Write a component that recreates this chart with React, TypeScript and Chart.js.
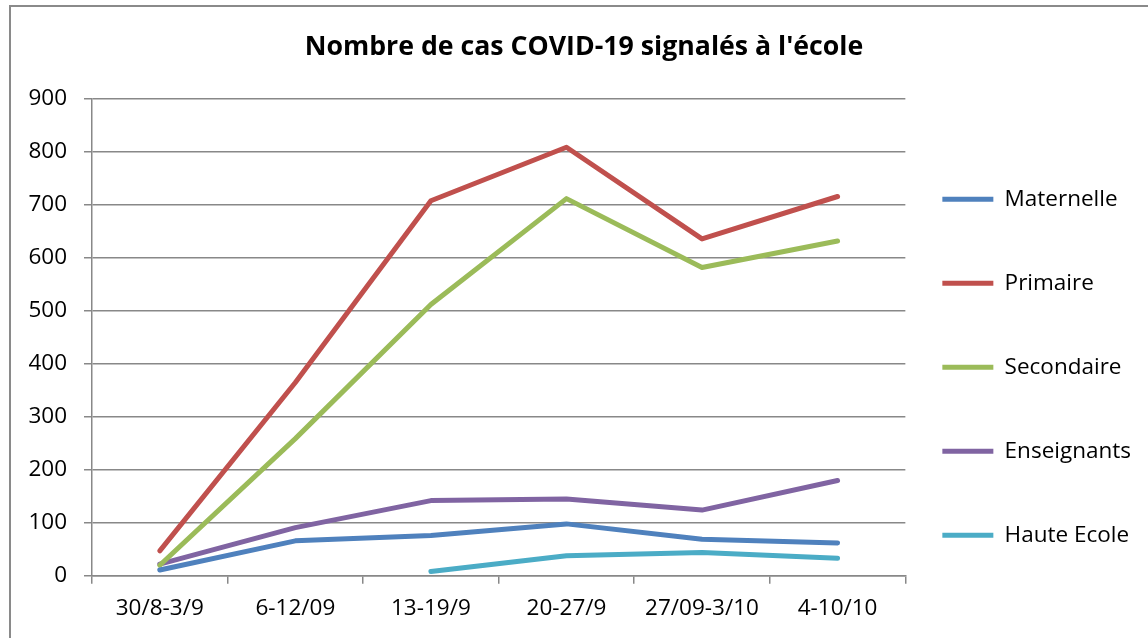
import React, { useEffect, useRef } from 'react';
import { Chart, registerables } from 'chart.js';

Chart.register(...registerables);

const FONT = 'Open Sans';

const categories = ['30/8-3/9', '6-12/09', '13-19/9', '20-27/9', '27/09-3/10', '4-10/10'];
const maternelle = [11, 66, 76, 98, 69, 62];
const primaire = [47, 365, 708, 809, 636, 716];
const secondaire = [20, 259, 512, 712, 582, 632];
const enseignants = [22, 91, 142, 145, 124, 180];
const hauteEcole = [null, null, 8, 38, 44, 33];

const seriesNames = ['Maternelle', 'Primaire', 'Secondaire', 'Enseignants', 'Haute Ecole'];
const seriesColors = ['#4F81BD', '#C0504D', '#9BBB59', '#8064A2', '#4BACC6'];
const seriesValues = [maternelle, primaire, secondaire, enseignants, hauteEcole];

const titleText = "Nombre de cas COVID-19 signalés à l'école";
const yMin = 0;
const yMax = 900;
const yStep = 100;

const GRID = '#888888';

const borderPlugin = {
  id: 'outerBorder',
  afterDraw(chart: any) {
    const ctx = chart.ctx;
    ctx.save();
    ctx.strokeStyle = '#8a8a8a';
    ctx.lineWidth = 2;
    ctx.strokeRect(10, 6, 1400, 900);
    ctx.restore();
  },
};

export default function App() {
  const ref = useRef<HTMLCanvasElement>(null);

  useEffect(() => {
    if (!ref.current) return;
    const chart = new Chart(ref.current, {
      type: 'line',
      data: {
        labels: categories,
        datasets: seriesNames.map((name, i) => ({
          label: name,
          data: seriesValues[i],
          borderColor: seriesColors[i],
          backgroundColor: seriesColors[i],
          borderWidth: 5,
          borderCapStyle: 'round',
          borderJoinStyle: 'round',
          pointRadius: 0,
          pointHoverRadius: 0,
          tension: 0,
          spanGaps: false,
        })),
      },
      options: {
        responsive: false,
        animation: false,
        events: [],
        layout: { padding: { left: 27, right: 7, top: 0, bottom: 5.2 } },
        plugins: {
          title: {
            display: true,
            text: titleText,
            color: '#000',
            font: { family: FONT, size: 26.7, weight: 'bold', lineHeight: 1.2 },
            padding: { top: 31, bottom: 36 },
          },
          legend: {
            position: 'right',
            align: 'center',
            title: { display: true, text: '', font: { size: 12, lineHeight: 1.2 }, padding: { top: 111.8, bottom: 0 } },
            labels: {
              usePointStyle: true,
              pointStyle: 'line',
              pointStyleWidth: 51,
              padding: 37,
              color: '#000',
              font: { family: FONT, size: 22.5, lineHeight: '47px' },
              generateLabels: (c: any) =>
                Chart.defaults.plugins.legend.labels.generateLabels(c).map((l: any) => ({ ...l, text: [l.text] })),
            },
          },
          tooltip: { enabled: false },
        },
        scales: {
          x: {
            type: 'category',
            offset: true,
            grid: { offset: true, drawOnChartArea: false, drawTicks: true, tickLength: 8, color: GRID, lineWidth: 1.5 },
            border: { display: true, color: GRID, width: 1.5 },
            ticks: { color: '#000', font: { family: FONT, size: 22.5 }, padding: 11, maxRotation: 0, autoSkip: false },
          },
          y: {
            min: yMin,
            max: yMax,
            afterFit: (scale: any) => { scale.width = 65; },
            grid: { color: GRID, lineWidth: 1.5, tickLength: 8 },
            border: { display: true, color: GRID, width: 1.5 },
            ticks: { stepSize: yStep, color: '#000', font: { family: FONT, size: 22.5 }, padding: 17 },
          },
        },
      },
      plugins: [borderPlugin],
    } as any);
    return () => chart.destroy();
  }, []);

  return (
    <div style={{ position: 'fixed', left: 0, top: 0, width: 1148, height: 638, background: '#fff' }}>
      <canvas ref={ref} width={1148} height={638} style={{ display: 'block' }} />
    </div>
  );
}
